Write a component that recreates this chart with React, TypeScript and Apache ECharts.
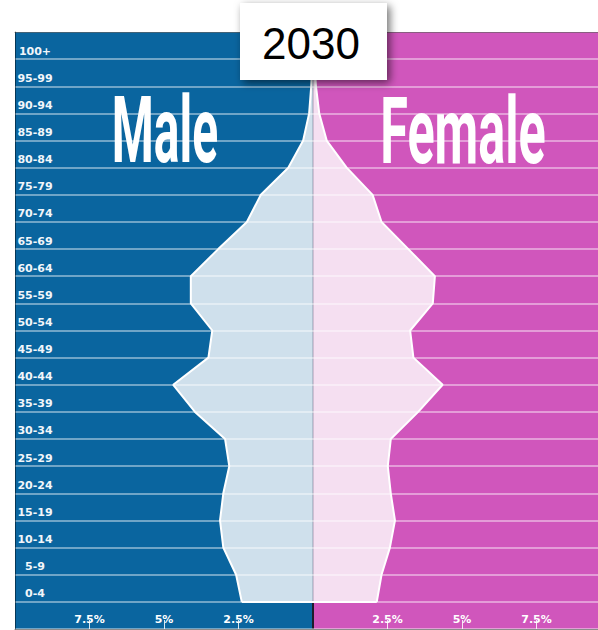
import React, { useEffect, useRef } from 'react';
import * as echarts from 'echarts';

const ageGroups = ['0-4', '5-9', '10-14', '15-19', '20-24', '25-29', '30-34', '35-39', '40-44', '45-49', '50-54', '55-59', '60-64', '65-69', '70-74', '75-79', '80-84', '85-89', '90-94', '95-99', '100+'];
const malePct = [2.39, 2.58, 3.01, 3.12, 3.01, 2.81, 2.95, 3.96, 4.69, 3.51, 3.38, 4.10, 4.10, 3.18, 2.22, 1.75, 0.83, 0.33, 0.13, 0.06, 0.02];
const femalePct = [2.14, 2.30, 2.58, 2.75, 2.61, 2.51, 2.61, 3.53, 4.35, 3.37, 3.26, 4.02, 4.09, 3.20, 2.30, 2.00, 1.13, 0.46, 0.21, 0.10, 0.04];
const tickValues = [-7.5, -5, -2.5, 2.5, 5, 7.5];
const yearLabel = '2030';
const sideLabels = ['Male', 'Female'];

const BLUE = '#0a659f';
const MAGENTA = '#d056bc';
const LIGHT_BLUE = '#cfe0ec';
const LIGHT_PINK = '#f5dff1';

export default function App() {
  const ref = useRef<HTMLDivElement>(null);
  useEffect(() => {
    const chart = echarts.init(ref.current!, null, { renderer: 'svg' });
    const rowCats = ['', ...ageGroups];
    const edgeCats = ['edge-bottom', ...ageGroups.map((a) => a + '-lower'), 'edge-top'];
    const fmt = (v: number) => (v === 0 || Math.abs(v) >= 10 ? '' : Math.abs(v) + '%');
    chart.setOption({
      animation: false,
      grid: { left: 15, right: 0, top: 32, bottom: 1, containLabel: false },
      xAxis: [
        {
          type: 'value', min: -10, max: 10, interval: 2.5, position: 'bottom', z: 10,
          axisLine: { show: true, onZero: false, lineStyle: { color: 'rgba(0,0,0,0.45)', width: 1 } },
          axisTick: { show: true, inside: true, length: 9, customValues: tickValues, lineStyle: { color: 'rgba(255,255,255,0.85)', width: 1 } },
          axisLabel: {
            inside: true, margin: 4, color: '#ffffff', fontFamily: 'DejaVu Sans', fontWeight: 'bold', fontSize: 11,
            customValues: tickValues, formatter: fmt,
          },
          splitLine: { show: false },
        },
        {
          type: 'value', min: -10, max: 10, position: 'top', z: 10,
          axisLine: { show: true, onZero: false, lineStyle: { color: 'rgba(0,0,0,0.4)', width: 1 } },
          axisTick: { show: false }, axisLabel: { show: false }, splitLine: { show: false },
        },
      ],
      yAxis: [
        {
          type: 'category', data: rowCats, boundaryGap: true, position: 'left', z: 10,
          axisLine: { show: true, onZero: false, lineStyle: { color: 'rgba(0,0,0,0.45)', width: 1 } },
          axisTick: { show: false },
          axisLabel: {
            inside: true, interval: 0, margin: 20, align: 'center', verticalAlign: 'top', lineHeight: 11,
            color: '#f2f6fa', fontFamily: 'DejaVu Sans', fontWeight: 'bold', fontSize: 11,
          },
          splitLine: { show: true, interval: 0, lineStyle: { color: 'rgba(255,255,255,0.42)', width: 2 } },
        },
        { type: 'category', data: edgeCats, boundaryGap: false, show: false },
      ],
      series: [
        {
          type: 'line', name: sideLabels[0], xAxisIndex: 0, yAxisIndex: 1, z: 2,
          data: ['-', ...malePct.map((v) => -v), '-'],
          symbol: 'none', showSymbol: false, silent: true,
          lineStyle: { color: '#ffffff', width: 2 },
          areaStyle: { color: LIGHT_BLUE, opacity: 1 },
          markArea: { silent: true, itemStyle: { color: BLUE }, data: [[{ xAxis: -10 }, { xAxis: 0 }]] },
        },
        {
          type: 'line', name: sideLabels[1], xAxisIndex: 0, yAxisIndex: 1, z: 2,
          data: ['-', ...femalePct, '-'],
          symbol: 'none', showSymbol: false, silent: true,
          lineStyle: { color: '#ffffff', width: 2 },
          areaStyle: { color: LIGHT_PINK, opacity: 1 },
          markArea: { silent: true, itemStyle: { color: MAGENTA }, data: [[{ xAxis: 0 }, { xAxis: 10 }]] },
          markLine: {
            silent: true, symbol: 'none', label: { show: false },
            data: [
              { xAxis: 0, lineStyle: { color: 'rgba(40,40,70,0.18)', width: 2, type: 'solid' } },
              [{ coord: [0, 0], lineStyle: { color: '#1d1d2b', width: 2, type: 'solid' } }, { coord: [0, 1] }],
              [{ coord: [-malePct[0], 1], lineStyle: { color: '#ffffff', width: 2, type: 'solid' } }, { coord: [femalePct[0], 1] }],
            ],
          },
        },
      ],
      graphic: [
        {
          type: 'rect', z: 100, shape: { x: 240, y: 3, width: 147, height: 77 },
          style: { fill: '#ffffff', shadowBlur: 8, shadowColor: 'rgba(0,0,0,0.55)', shadowOffsetX: 3, shadowOffsetY: 3 },
        },
        {
          type: 'text', z: 101, x: 311, y: 43,
          style: { text: yearLabel, fontSize: 44, fontFamily: 'Liberation Sans, Arial, sans-serif', fill: '#000', align: 'center', verticalAlign: 'middle' },
        },
        {
          type: 'text', z: 100, x: 165, y: 131, scaleX: 0.8, scaleY: 1.54,
          style: { text: sideLabels[0], fontSize: 60, fontFamily: 'Roboto', fontWeight: 'bold', fill: '#ffffff', align: 'center', verticalAlign: 'middle' },
        },
        {
          type: 'text', z: 100, x: 463, y: 131, scaleX: 0.84, scaleY: 1.54,
          style: { text: sideLabels[1], fontSize: 60, fontFamily: 'Roboto', fontWeight: 'bold', fill: '#ffffff', align: 'center', verticalAlign: 'middle' },
        },
      ],
    });
    return () => chart.dispose();
  }, []);
  return (
    <div style={{ position: 'absolute', left: 0, top: 0, width: 598, height: 630, overflow: 'hidden' }}>
      <div ref={ref} style={{ width: 611, height: 630 }} />
    </div>
  );
}
